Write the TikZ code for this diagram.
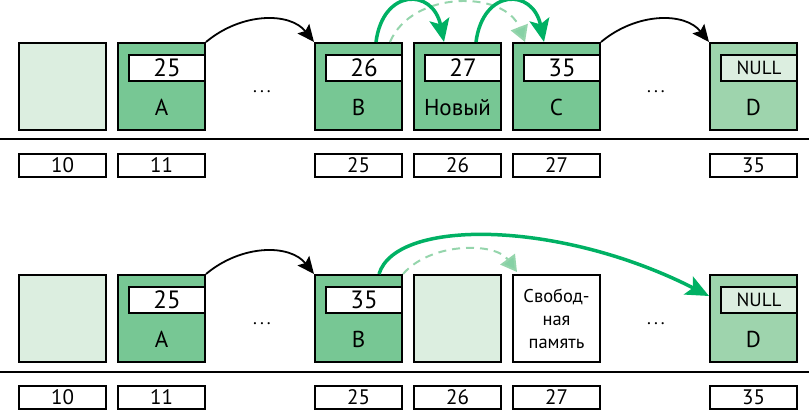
\documentclass[tikz,border=0pt]{standalone}
\usepackage{fontspec}
\setmainfont{PT Sans}
\usetikzlibrary{arrows.meta,calc}
\definecolor{dgreen}{HTML}{77C794}
\definecolor{lgreen}{HTML}{DCEEE0}
\definecolor{mgreen}{HTML}{9ED4AD}
\definecolor{agreen}{HTML}{00B164}
\definecolor{dashgreen}{HTML}{95D5AC}
\tikzset{
  cell/.style={draw=black, line width=2pt, minimum width=87pt, minimum height=87pt, inner sep=0pt, anchor=north west},
  ptrbox/.style={draw=black, line width=2pt, fill=white, minimum width=76pt, minimum height=26pt, inner sep=0pt, anchor=north east, font=\fontsize{25}{25}\selectfont},
  nullbox/.style={ptrbox, fill=lgreen, font=\fontsize{19}{19}\selectfont},
  lbl/.style={anchor=base, inner sep=0pt, font=\fontsize{23}{23}\selectfont},
  addr/.style={draw=black, line width=2pt, minimum width=87pt, minimum height=23pt, inner sep=0pt, anchor=north west, font=\fontsize{21}{21}\selectfont},
  dotsnode/.style={inner sep=0pt, font=\fontsize{18}{18}\selectfont},
  blackarr/.style={line width=1.8pt, -{Stealth[length=17pt,width=15pt,inset=3pt]}},
  greenarr/.style={draw=agreen, line width=3.5pt, -{Stealth[length=23pt,width=20pt,inset=5pt]}},
  dasharr/.style={draw=dashgreen, line width=2pt, dash pattern=on 8pt off 6pt, -{Triangle[length=16pt,width=18pt,fill=dashgreen!90!agreen]}},
  rule/.style={line width=2pt}
}
\begin{document}
\begin{tikzpicture}[x=1pt,y=-1pt]
\useasboundingbox (0,0) rectangle (809,412);

% ---------- top row ----------
\node[cell, fill=lgreen] (e1) at (18,42) {};
\node[cell, fill=dgreen] (A) at (117,42) {};
\node[cell, fill=dgreen] (B) at (314,42) {};
\node[cell, fill=dgreen] (N) at (413,42) {};
\node[cell, fill=dgreen] (C) at (512,42) {};
\node[cell, fill=mgreen] (D) at (709,42) {};

\node[ptrbox] (pA) at ([yshift=-12pt]A.north east) {25};
\node[ptrbox] (pB) at ([yshift=-12pt]B.north east) {26};
\node[ptrbox] (pN) at ([yshift=-12pt]N.north east) {27};
\node[ptrbox] (pC) at ([yshift=-12pt]C.north east) {35};
\node[nullbox] (pD) at ([yshift=-12pt]D.north east) {NULL};

\node[lbl] (lA) at ([yshift=16pt]A.south) {A};
\node[lbl] (lB) at ([yshift=16pt]B.south) {B};
\node[lbl] (lN) at ([yshift=16pt]N.south) {Новый};
\node[lbl] (lC) at ([yshift=16pt]C.south) {C};
\node[lbl] (lD) at ([yshift=16pt]D.south) {D};

\node[dotsnode] (d1) at (262,92) {.\hspace{3pt}.\hspace{3pt}.};
\node[dotsnode] (d2) at (656,92) {.\hspace{3pt}.\hspace{3pt}.};

\draw[rule] (0,139) -- (809,139);

\node[addr] (a1) at (18,153) {10};
\node[addr] (a2) at (117,153) {11};
\node[addr] (a3) at (314,153) {25};
\node[addr] (a4) at (413,153) {26};
\node[addr] (a5) at (512,153) {27};
\node[addr] (a6) at (709,153) {35};

\draw[blackarr] (A.north east) .. controls +(36,-30) and +(-24,-30) .. (B.north west);
\draw[blackarr] (C.north east) .. controls +(36,-30) and +(-24,-30) .. (D.north west);
\draw[dasharr] ([xshift=-13pt]B.north east) .. controls +(22,-52) and +(-20,-52) .. ([xshift=13pt]C.north west);
\draw[greenarr] ([xshift=17.5pt]B.north) .. controls +(7,-54) and +(-11,-54) .. ([xshift=-13.5pt]N.north);
\draw[greenarr] ([xshift=18.5pt]N.north) .. controls +(7,-54) and +(-11,-54) .. ([xshift=-12.5pt]C.north);

% ---------- bottom row ----------
\node[cell, fill=lgreen] (e2) at (18,274) {};
\node[cell, fill=dgreen] (A2) at (117,274) {};
\node[cell, fill=dgreen] (B2) at (314,274) {};
\node[cell, fill=lgreen] (E2) at (413,274) {};
\node[cell, fill=white, align=center, font=\fontsize{18.5}{23}\selectfont] (F) at (512,274) {Свобод-\\ная\\память};
\node[cell, fill=mgreen] (D2) at (709,274) {};

\node[ptrbox] (pA2) at ([yshift=-12pt]A2.north east) {25};
\node[ptrbox] (pB2) at ([yshift=-12pt]B2.north east) {35};
\node[nullbox] (pD2) at ([yshift=-12pt]D2.north east) {NULL};

\node[lbl] (lA2) at ([yshift=16pt]A2.south) {A};
\node[lbl] (lB2) at ([yshift=16pt]B2.south) {B};
\node[lbl] (lD2) at ([yshift=16pt]D2.south) {D};

\node[dotsnode] (d3) at (262,324) {.\hspace{3pt}.\hspace{3pt}.};
\node[dotsnode] (d4) at (656,324) {.\hspace{3pt}.\hspace{3pt}.};

\draw[rule] (0,372) -- (809,372);

\node[addr] (b1) at (18,385) {10};
\node[addr] (b2) at (117,385) {11};
\node[addr] (b3) at (314,385) {25};
\node[addr] (b4) at (413,385) {26};
\node[addr] (b5) at (512,385) {27};
\node[addr] (b6) at (709,385) {35};

\draw[blackarr] (A2.north east) .. controls +(36,-30) and +(-24,-30) .. (B2.north west);
\draw[dasharr] (B2.north east) .. controls +(28,-32) and +(-22,-30) .. ([xshift=5pt,yshift=2pt]F.north west);
\draw[greenarr] ([xshift=20.5pt]B2.north) .. controls +(17,-56) and +(-149,-76) .. ([yshift=-22pt]D2.north west);
\end{tikzpicture}
\end{document}
